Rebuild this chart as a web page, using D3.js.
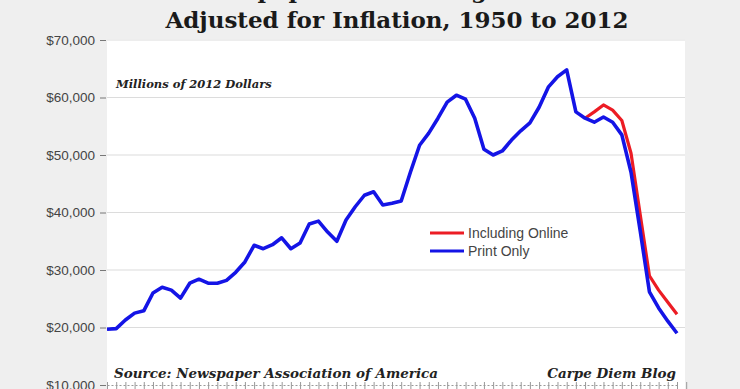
<!DOCTYPE html>
<html>
<head>
<meta charset="utf-8">
<script src="https://cdn.jsdelivr.net/npm/d3@7"></script>
<style>
  body { margin: 0; background: #efefef; }
  svg { display: block; }
</style>
</head>
<body>
<script>
'use strict';

// print-only revenue, millions of 2012 dollars, 1950..2012
const printYears = d3.range(1950, 2013);
const printOnly = [
  19700, 19800, 21300, 22500, 22900, 26000, 27000, 26500, 25100, 27700,
  28400, 27700, 27700, 28200, 29600, 31400, 34300, 33700, 34400, 35600,
  33700, 34700, 38000, 38500, 36600, 35000, 38700, 41000, 43000, 43600,
  41300, 41600, 42000, 47000, 51700, 53800, 56400, 59200, 60400, 59700,
  56400, 51000, 50000, 50700, 52600, 54200, 55600, 58300, 61800, 63600,
  64800, 57500, 56400, 55700, 56600, 55700, 53500, 47000, 36800, 26200,
  23400, 21100, 19000
];

// print + online, shown where it differs from print
const onlineYears = d3.range(2002, 2013);
const inclOnline = [56400, 57500, 58700, 57800, 56000, 50300, 39600, 29000, 26500, 24400, 22300];

const yTicks = [10000, 20000, 30000, 40000, 50000, 60000, 70000];

const W = 740, H = 389;
const plot = { left: 107, right: 685, top: 39 };

const svg = d3.select('body').append('svg')
  .attr('width', W)
  .attr('height', H);

// white plot panel
svg.append('rect')
  .attr('x', plot.left)
  .attr('y', plot.top)
  .attr('width', plot.right - plot.left)
  .attr('height', H - plot.top + 20)
  .attr('fill', '#ffffff');

const x = d3.scaleLinear().domain([1950, 2012]).range([107, 677]);
const y = d3.scaleLinear().domain([10000, 70000]).range([385, 40]);

// grid lines
svg.append('g')
  .selectAll('line')
  .data(yTicks.slice(1))
  .enter()
  .append('line')
  .attr('x1', plot.left)
  .attr('x2', plot.right)
  .attr('y1', (d) => y(d))
  .attr('y2', (d) => y(d))
  .attr('stroke', '#dcdcdc')
  .attr('stroke-width', 1.2);

// y axis labels with little dashes
const yAxis = d3.axisLeft(y)
  .tickValues(yTicks)
  .tickSize(6)
  .tickPadding(5)
  .tickFormat((d) => '$' + d3.format(',')(d));
const gy = svg.append('g')
  .attr('transform', 'translate(' + (plot.left - 1) + ',0)')
  .call(yAxis);
gy.select('.domain').remove();
gy.selectAll('.tick line').attr('stroke', '#777');
gy.selectAll('text')
  .attr('fill', '#444')
  .style('font-family', 'Liberation Sans, Arial, sans-serif')
  .style('font-size', '13.5px');

// x axis at the bottom, one tick per year
const xAxis = d3.axisBottom(x)
  .tickValues(d3.range(1950, 2014))
  .tickSizeInner(4)
  .tickSizeOuter(0)
  .tickFormat('');
const gx = svg.append('g')
  .attr('transform', 'translate(0,' + y(10000) + ')')
  .call(xAxis);
gx.select('.domain').attr('stroke', '#999').attr('stroke-dasharray', '2,2');
gx.selectAll('.tick line').attr('stroke', '#999').attr('y1', -3);

// lines
const line = d3.line()
  .x((d) => x(d[0]))
  .y((d) => y(d[1]));

svg.append('path')
  .datum(onlineYears.map((yr, i) => [yr, inclOnline[i]]))
  .attr('fill', 'none')
  .attr('stroke', '#ec1c24')
  .attr('stroke-width', 3.2)
  .attr('stroke-linejoin', 'round')
  .attr('d', line);

svg.append('path')
  .datum(printYears.map((yr, i) => [yr, printOnly[i]]))
  .attr('fill', 'none')
  .attr('stroke', '#1414e6')
  .attr('stroke-width', 3.6)
  .attr('stroke-linejoin', 'round')
  .attr('d', line);

// legend
const legend = [
  { label: 'Including Online', color: '#ec1c24' },
  { label: 'Print Only', color: '#1414e6' }
];
const lg = svg.append('g').selectAll('g')
  .data(legend)
  .enter()
  .append('g')
  .attr('transform', (d, i) => 'translate(430,' + (233 + i * 18) + ')');
lg.append('line')
  .attr('x1', 0).attr('x2', 34)
  .attr('stroke', (d) => d.color)
  .attr('stroke-width', 3);
lg.append('text')
  .attr('x', 38)
  .attr('y', 5)
  .attr('fill', '#444')
  .style('font-family', 'Liberation Sans, Arial, sans-serif')
  .style('font-size', '14px')
  .text((d) => d.label);

// titles and notes
const serif = 'DejaVu Serif, Georgia, serif';

svg.append('text')
  .attr('x', 397)
  .attr('y', -2)
  .attr('text-anchor', 'middle')
  .attr('fill', '#1a1a1a')
  .style('font-family', serif)
  .style('font-weight', 'bold')
  .style('font-size', '23px')
  .text('Newspaper Advertising Revenue');

svg.append('text')
  .attr('x', 397)
  .attr('y', 28)
  .attr('text-anchor', 'middle')
  .attr('fill', '#1a1a1a')
  .style('font-family', serif)
  .style('font-weight', 'bold')
  .style('font-size', '23px')
  .text('Adjusted for Inflation, 1950 to 2012');

svg.append('text')
  .attr('x', 116)
  .attr('y', 88)
  .attr('fill', '#222')
  .style('font-family', serif)
  .style('font-weight', 'bold')
  .style('font-style', 'italic')
  .style('font-size', '11.5px')
  .text('Millions of 2012 Dollars');

svg.append('text')
  .attr('x', 114)
  .attr('y', 378)
  .attr('fill', '#222')
  .style('font-family', serif)
  .style('font-weight', 'bold')
  .style('font-style', 'italic')
  .style('font-size', '13.5px')
  .text('Source: Newspaper Association of America');

svg.append('text')
  .attr('x', 676)
  .attr('y', 378)
  .attr('text-anchor', 'end')
  .attr('fill', '#222')
  .style('font-family', serif)
  .style('font-weight', 'bold')
  .style('font-style', 'italic')
  .style('font-size', '13.5px')
  .text('Carpe Diem Blog');
</script>
</body>
</html>
